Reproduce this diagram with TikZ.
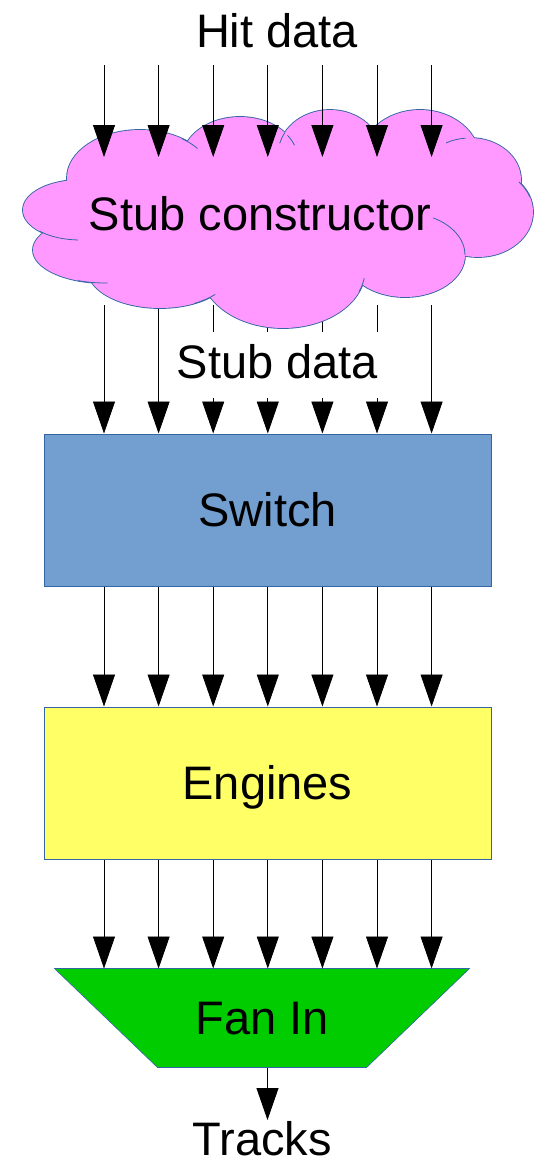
\documentclass[tikz,border=0pt]{standalone}
\usepackage{fontspec}
\setmainfont{Liberation Sans}
\usetikzlibrary{arrows.meta,backgrounds}
\definecolor{swfill}{HTML}{729FCF}
\definecolor{edgeblue}{HTML}{3465A4}
\definecolor{enfill}{HTML}{FFFF66}
\definecolor{fanfill}{HTML}{00CC00}
\definecolor{cloudfill}{HTML}{FF99FF}
\begin{document}
\begin{tikzpicture}[x=1pt,y=-1pt,
  arr/.style={line width=0.8pt, -{Triangle[width=22pt,length=32pt]}},
  lbl/.style={font=\fontsize{47}{56}\selectfont, inner sep=0pt},
  blk/.style={line width=1pt, minimum width=447pt, minimum height=152pt, inner sep=0pt,
    font=\fontsize{47}{56}\selectfont, text height=42.5pt, text depth=10pt},
  lobeline/.style={draw=edgeblue, line width=1.8pt},
  lobefill/.style={fill=cloudfill},
  hook/.style={draw=edgeblue, line width=0.8pt},
]
\useasboundingbox (0,0) rectangle (535,1159);
% coordinates of the seven lanes
\foreach \x [count=\i] in {104,158.6,213.2,267.8,322.4,377,431.6} {
  \coordinate (hin\i) at (\x,65);
  \coordinate (cin\i) at (\x,157);
  \coordinate (cout\i) at (\x,305);
}
% blocks
\node[blk, draw=edgeblue, fill=swfill] (sw) at (267.5,510) {Switch};
\node[blk, draw=edgeblue, fill=enfill] (en) at (267.5,783) {Engines};
\node[blk, minimum width=414pt, minimum height=98pt] (fan) at (262,1018) {Fan In};
\begin{scope}[on background layer]
  \filldraw[fill=fanfill, draw=edgeblue, line width=0.6pt]
    (fan.north west) -- (fan.north east) -- ([xshift=-103pt]fan.south east)
    -- ([xshift=103pt]fan.south west) -- cycle;
\end{scope}
% stub data lanes (behind cloud)
\foreach \i in {1,...,7} {
  \draw[arr] (cout\i) -- (sw.north -| cout\i);
  \draw[arr] (sw.south -| cout\i) -- (en.north -| cout\i);
  \draw[arr] (en.south -| cout\i) -- (fan.north -| cout\i);
}
% text box of the stub data label (drawn before the cloud so it never hides it)
\node[lbl, anchor=base, fill=white, text height=46pt, text depth=20pt, inner xsep=4pt] (sd) at (277.5,378) {Stub data};
% cloud
\def\lobes{140/178/73/48, 240/160/58/43, 330/155/52/45, 420/160/60/50, 470/180/51/42,
  478/212/55/45, 80/210/57/30, 105/250/72/33, 160/270/72/38, 283/270/82/58, 405/255/60/42,
  280/210/200/75}
\foreach \cx/\cy/\rx/\ry in \lobes {
  \path[lobeline] (\cx,\cy) ellipse [x radius=\rx pt, y radius=\ry pt];
}
\foreach \cx/\cy/\rx/\ry in \lobes {
  \path[lobefill] (\cx,\cy) ellipse [x radius=\rx pt, y radius=\ry pt];
}
% small inner arcs where the lobes meet
\foreach \cx/\cy/\rx/\ry/\sa/\ea in {405/255/60/42/0/62, 478/212/55/45/20/42, 470/180/51/42/95/118,
  140/178/73/48/38/55, 80/210/57/30/-135/-92, 105/250/72/33/-112/-88, 160/270/72/38/-62/-40,
  283/270/82/58/-22/-8, 330/155/52/45/150/165, 240/160/58/43/20/35} {
  \draw[hook] (\cx,\cy) ++(\sa:\rx pt and \ry pt) arc [start angle=\sa, end angle=\ea, x radius=\rx pt, y radius=\ry pt];
}
\node[lbl, anchor=base] (sc) at (260,230.6) {Stub constructor};
% hit data
\node[lbl, anchor=base] (hit) at (277,47) {Hit data};
\foreach \i in {1,...,7} {
  \draw[arr] (hin\i) -- (cin\i);
}
% output
\node[lbl, anchor=base] (tr) at (262,1155) {Tracks};
\coordinate (trin) at (267.5,1120);
\draw[arr] (fan.south -| trin) -- (trin);
\end{tikzpicture}
\end{document}
